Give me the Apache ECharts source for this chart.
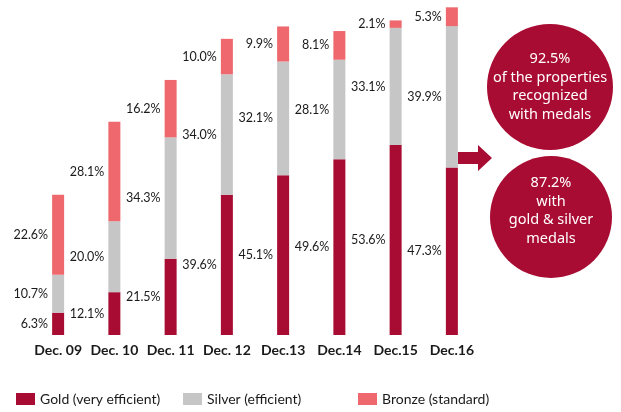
<!DOCTYPE html>
<html>
<head>
<meta charset="utf-8">
<script src="https://cdn.jsdelivr.net/npm/echarts@6/dist/echarts.min.js"></script>
<style>
  html, body { margin: 0; padding: 0; background: #fff; }
  #chart { width: 621px; height: 412px; }
</style>
</head>
<body>
<div id="chart"></div>
<script>
// Share of properties by medal level (%)
const periods = ["Dec. 09", "Dec. 10", "Dec. 11", "Dec. 12", "Dec.13", "Dec.14", "Dec.15", "Dec.16"];
const gold = [6.3, 12.1, 21.5, 39.6, 45.1, 49.6, 53.6, 47.3];
const silver = [10.7, 20.0, 34.3, 34.0, 32.1, 28.1, 33.1, 39.9];
const bronze = [22.6, 28.1, 16.2, 10.0, 9.9, 8.1, 2.1, 5.3];

const GOLD = "#a90c32";
const SILVER = "#c6c6c6";
const BRONZE = "#ee686d";

// totals for the latest period, shown in the circles
const last = periods.length - 1;
const withMedals = gold[last] + silver[last] + bronze[last];
const goldSilver = gold[last] + silver[last];

const chart = echarts.init(document.getElementById("chart"));

const valueLabel = {
    show: true,
    position: "left",
    distance: 4,
    color: "#1a1a1a",
    fontFamily: "Lato",
    fontSize: 12.5,
    formatter: (p) => p.value.toFixed(1) + "%",
};

const legendBase = {
    top: 392,
    padding: 0,
    itemWidth: 19,
    itemHeight: 12,
    icon: "rect",
    selectedMode: false,
    textStyle: { fontFamily: "Lato", fontSize: 14, color: "#1a1a1a" },
};

const option = {
    animation: false,
    grid: { left: 30, width: 450, top: 2, bottom: 77 },
    legend: [
        Object.assign({ left: 16, data: ["Gold (very efficient)"] }, legendBase),
        Object.assign({ left: 183, data: ["Silver (efficient)"] }, legendBase),
        Object.assign({ left: 358, data: ["Bronze (standard)"] }, legendBase),
    ],
    xAxis: {
        type: "category",
        data: periods,
        axisLine: { show: false },
        axisTick: { show: false },
        axisLabel: {
            interval: 0,
            margin: 8,
            color: "#1a1a1a",
            fontFamily: "Lato",
            fontWeight: "bold",
            fontSize: 14,
        },
    },
    yAxis: {
        type: "value",
        min: 0,
        max: 94,
        show: false,
    },
    series: [
        {
            name: "Gold (very efficient)",
            type: "bar",
            stack: "medals",
            barWidth: 12,
            data: gold,
            itemStyle: { color: GOLD },
            label: valueLabel,
        },
        {
            name: "Silver (efficient)",
            type: "bar",
            stack: "medals",
            barWidth: 12,
            data: silver,
            itemStyle: { color: SILVER },
            label: valueLabel,
        },
        {
            name: "Bronze (standard)",
            type: "bar",
            stack: "medals",
            barWidth: 12,
            data: bronze,
            itemStyle: { color: BRONZE },
            label: valueLabel,
        },
    ],
    graphic: [
        {
            type: "polygon",
            shape: {
                points: [[458, 152], [478, 152], [478, 145], [492, 158], [478, 171], [478, 164], [458, 164]],
            },
            style: { fill: GOLD },
        },
        {
            type: "circle",
            shape: { cx: 550, cy: 87, r: 63 },
            style: { fill: GOLD },
        },
        {
            type: "text",
            x: 550,
            y: 87,
            style: {
                text: withMedals.toFixed(1) + "%\nof the properties\nrecognized\nwith medals",
                fill: "#fff",
                fontFamily: "Noto Sans",
                fontSize: 14.5,
                lineHeight: 18.7,
                align: "center",
                verticalAlign: "middle",
            },
        },
        {
            type: "circle",
            shape: { cx: 551, cy: 217, r: 61 },
            style: { fill: GOLD },
        },
        {
            type: "text",
            x: 551,
            y: 211,
            style: {
                text: goldSilver.toFixed(1) + "%\nwith\ngold & silver\nmedals",
                fill: "#fff",
                fontFamily: "Noto Sans",
                fontSize: 14.5,
                lineHeight: 18.7,
                align: "center",
                verticalAlign: "middle",
            },
        },
    ],
};

chart.setOption(option);
</script>
</body>
</html>
